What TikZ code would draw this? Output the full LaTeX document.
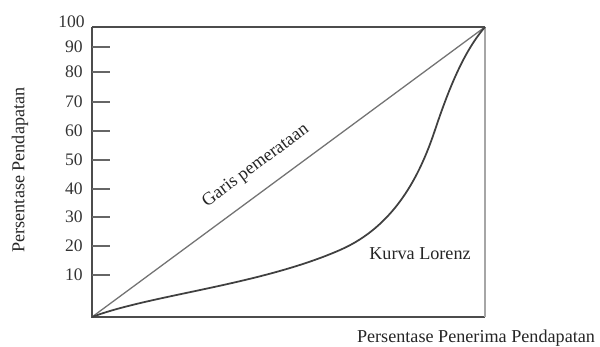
\documentclass[tikz,border=0pt]{standalone}
\usepackage{fontspec}
\setmainfont{Liberation Serif}
\usetikzlibrary{positioning}

\tikzset{
	axisline/.style={line width=1.8pt, draw=black!70},
	rightline/.style={line width=1.4pt, draw=black!35},
	tickline/.style={line width=1.1pt, draw=black!60},
	diagline/.style={line width=1.1pt, draw=black!55},
	lorenzline/.style={line width=1.5pt, draw=black!75},
	ticklabel/.style={font=\fontsize{15}{15}\selectfont, text=black!80, anchor=east, inner sep=0pt},
	lbl/.style={font=\fontsize{15.5}{16}\selectfont, text=black!85, inner sep=0pt},
}

\begin{document}
\begin{tikzpicture}[x=0.03cm,y=-0.03cm]
\useasboundingbox (0,0) rectangle (600,347);

% corners of the frame
\coordinate (O) at (92,317);
\coordinate (T) at (485,27);
\coordinate (TL) at (92,27);
\coordinate (BR) at (485,317);

\draw[axisline] (TL) -- (O) -- (BR);
\draw[axisline] (TL) -- (T);
\draw[rightline] (T) -- (BR);

% ticks on the vertical axis
\foreach \v/\y in {90/47,80/72,70/102,60/131,50/160,40/189,30/217,20/246,10/275}{
	\coordinate (k\v) at (92,\y);
	\coordinate (e\v) at (110,\y);
	\draw[tickline] (k\v) -- (e\v);
	\node[ticklabel] (n\v) at (83,\y) {\v};
}
\node[ticklabel] (n100) at (85,22) {100};

% equality line
\draw[diagline] (O) -- (T);
\node[lbl, rotate=36.4] (garis) at (256,166) {Garis pemerataan};

% Lorenz curve
\coordinate (L1) at (340,250);
\coordinate (L2) at (435,130);
\draw[lorenzline] (O) .. controls (150,295) and (260,285) .. (L1)
	.. controls (395,226) and (420,175) .. (L2)
	.. controls (450,85) and (465,50) .. (T);
\node[lbl] (lorenz) at (420,254) {Kurva Lorenz};

% axis titles
\node[lbl, rotate=90] (ytitle) at (20,170) {Persentase Pendapatan};
\node[lbl] (xtitle) at (476,338) {Persentase Penerima Pendapatan};
\end{tikzpicture}
\end{document}
